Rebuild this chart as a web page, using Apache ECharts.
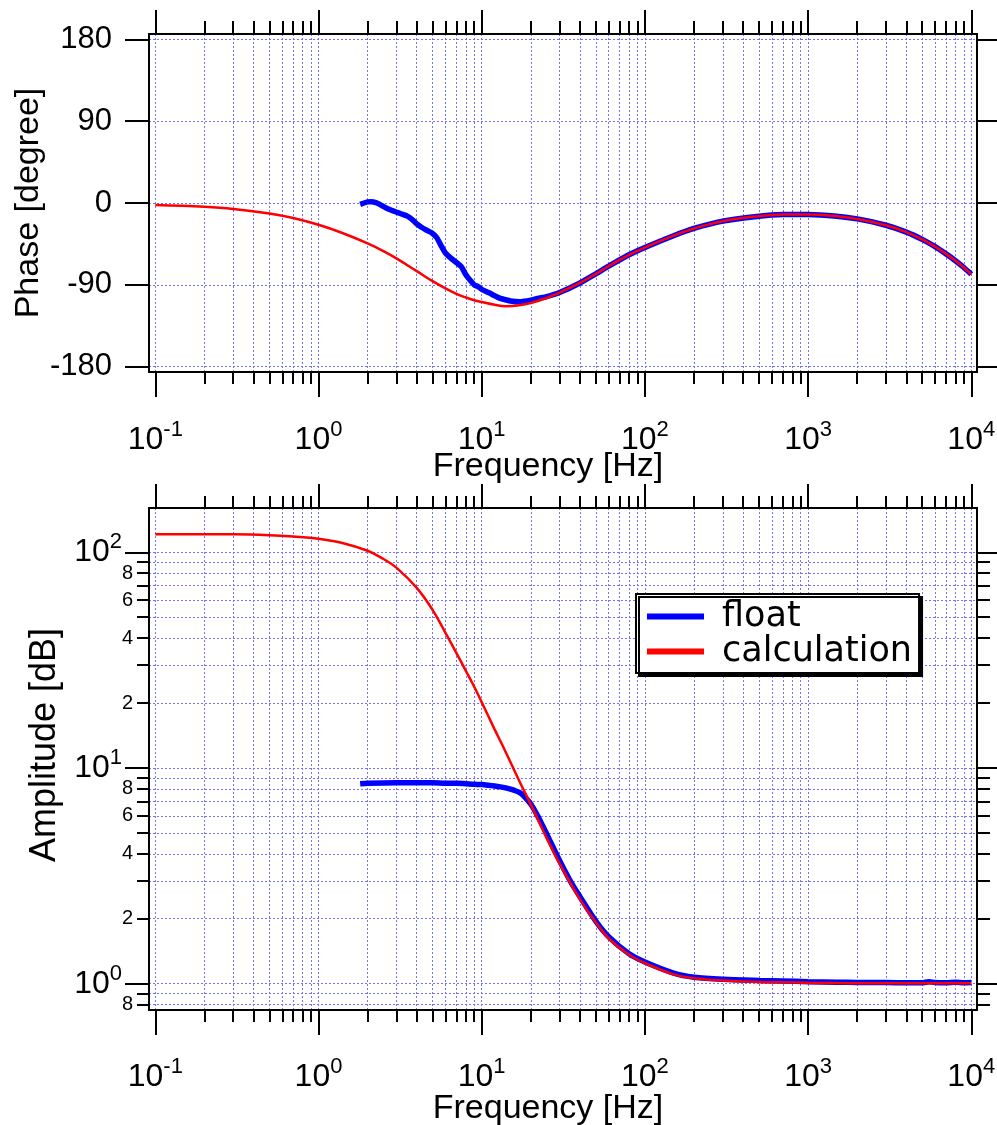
<!DOCTYPE html>
<html><head><meta charset="utf-8">
<script src="https://cdn.jsdelivr.net/npm/echarts@6/dist/echarts.min.js"></script>
<style>html,body{margin:0;padding:0;background:#fff}#c{width:997px;height:1125px}</style>
</head><body><div id="c"></div>
<script>
// ---------- data ----------
const freqCalc = [0.1,0.2,0.3,0.5,0.7,1,1.4,2,2.5,3,4,5,6,7,8,9,10,12,14,17,20,25,30,40,50,60,80,100,150,200,300,500,700,1000,1500,2000,3000,4000,5000,6000,7000,8000,9000,10000];
const phaseCalc = [-2.2,-4.2,-6.5,-11.5,-16.5,-24,-33,-44.5,-53,-61,-75,-86,-94,-100,-104,-107,-109,-112,-113.5,-112.5,-110,-104.5,-98.7,-88,-78,-69.5,-57,-49,-36,-28,-20,-14.5,-12.7,-12.6,-14.5,-17.5,-24.5,-32,-40,-48,-56,-63.5,-71,-78.5];
const ampCalc = [121.3,121.2,121.1,120,118.3,115.6,110.4,101.6,93.1,84.9,68.4,54.1,42.3,34.1,28.2,23.8,20.2,15.1,11.9,8.7,6.76,4.73,3.6,2.46,1.926,1.62,1.363,1.246,1.104,1.06,1.034,1.019,1.015,1.009,1.006,1.005,1.004,1.004,1.004,1.004,1.004,1.004,1.004,1.004];

const freqFloatPhase = [1.8,1.9,2.0,2.1,2.25,2.4,2.6,2.8,3.0,3.2,3.5,3.8,4.0,4.3,4.6,5.0,5.3,5.6,6.0,6.5,7.0,7.5,8.0,8.5,9.0,9.5,10,11,12,13,14,15,17,20,22,25,30,40,50,60,80,100,150,200,300,500,700,1000,1500,2000,3000,4000,5000,6000,7000,8000,9000,10000];
const phaseFloat = [-1.5,0,1.2,1.5,0.5,-2,-5.5,-8,-10,-11.8,-14.5,-19,-23,-27,-30,-33.5,-38,-46,-55,-61,-65.5,-70,-79,-85,-90,-92,-95,-98.5,-102,-105,-106.5,-107.8,-108.7,-107,-105,-103,-98.5,-88,-78,-69.5,-57,-49,-36,-28,-20,-14.5,-12.7,-12.6,-14.5,-17.5,-24.5,-32,-40,-48,-56,-63.5,-71,-78.5];

const freqFloatAmp = [1.8,2,3,4,5,6,7,8,9,10,11,12,13,14,15,16,17,18,20,22,25,30,35,40,50,60,80,100,150,200,300,500,700,1000,1500,2000,3000,4000,5000,5500,6000,7000,8000,9000,10000];
const ampFloat = [8.45,8.5,8.55,8.55,8.55,8.5,8.5,8.45,8.4,8.38,8.32,8.25,8.17,8.08,7.97,7.85,7.7,7.45,6.8,6.0,4.95,3.72,2.98,2.53,1.95,1.65,1.375,1.26,1.12,1.072,1.048,1.035,1.03,1.022,1.016,1.013,1.012,1.01,1.009,1.022,1.012,1.01,1.014,1.01,1.012];

// ---------- ticks ----------
const freqMajorTicks = [0.1,1,10,100,1000,10000];
const freqMinorTicks = [0.2,0.3,0.4,0.5,0.6,0.7,0.8,0.9,2,3,4,5,6,7,8,9,20,30,40,50,60,70,80,90,200,300,400,500,600,700,800,900,2000,3000,4000,5000,6000,7000,8000,9000];
const phaseTicks = [-180,-90,0,90,180];
const ampMajorTicks = [1,10,100];
const ampMinorTicks = [0.8,0.9,2,3,4,5,6,7,8,9,20,30,40,50,60,70,80,90];
const ampMinorLabels = [0.8,2,4,6,8,20,40,60,80];

const X_RANGE = [0.0915, 10840];
const PHASE_RANGE = [-186, 186];
const AMP_RANGE = [0.755, 160.4];

const seriesNames = ['float','calculation'];

// ---------- style ----------
const FONT = '"Liberation Sans", Arial, Helvetica, sans-serif';
const GRID_COLOR = '#7272ff';
const pairs = (xs, ys) => xs.map((x, i) => [x, ys[i]]);
const supLabel = v => '{b|10}{s|' + Math.round(Math.log10(v)) + '}';
const mantissa = v => String(Math.round(v / Math.pow(10, Math.floor(Math.log10(v) + 1e-9))));
const richSup = () => ({
  b: {fontFamily: FONT, fontSize: 32, lineHeight: 42, color: '#000'},
  s: {fontFamily: FONT, fontSize: 22, lineHeight: 16, verticalAlign: 'top', color: '#000'}
});
const blackLine = () => ({color: '#000', width: 2});
const splitStyle = () => ({show: true, lineStyle: {color: GRID_COLOR, type: [2, 2], width: 1, opacity: 1}});

function baseAxis(type, gridIndex, position, range, ticks, len, opt) {
  return Object.assign({
    type, gridIndex, position, min: range[0], max: range[1],
    axisLine: {show: true, onZero: false, lineStyle: blackLine()},
    axisTick: {show: true, inside: false, length: len, customValues: ticks, lineStyle: blackLine()},
    axisLabel: {show: false},
    splitLine: {show: false},
    splitArea: {show: false},
    minorTick: {show: false}, minorSplitLine: {show: false},
    nameMoveOverlap: false
  }, type === 'log' ? {logBase: 10} : {}, opt || {});
}
const logX = (g, pos, ticks, len, opt) => baseAxis('log', g, pos, X_RANGE, ticks, len, opt);
const xLabel = margin => ({show: true, customValues: freqMajorTicks, formatter: supLabel, margin, rich: richSup()});
const xName = gap => ({name: 'Frequency [Hz]', nameLocation: 'middle', nameGap: gap,
  nameTextStyle: {fontFamily: FONT, fontSize: 34, color: '#000', padding: [0, 30, 0, 0]}});

const option = {
  animation: false,
  backgroundColor: '#fff',
  grid: [
    {left: 149, top: 34, width: 828, height: 338, outerBoundsMode: 'none', containLabel: false},
    {left: 149, top: 508, width: 828, height: 502, outerBoundsMode: 'none', containLabel: false}
  ],
  xAxis: [
    logX(0, 'bottom', freqMajorTicks, 25, Object.assign({axisLabel: xLabel(47), splitLine: splitStyle()}, xName(78))),
    logX(0, 'bottom', freqMinorTicks, 12, {splitLine: splitStyle()}),
    logX(0, 'top', freqMajorTicks, 24),
    logX(0, 'top', freqMinorTicks, 13),
    logX(1, 'bottom', freqMajorTicks, 25, Object.assign({axisLabel: xLabel(46), splitLine: splitStyle()}, xName(82))),
    logX(1, 'bottom', freqMinorTicks, 12, {splitLine: splitStyle()}),
    logX(1, 'top', freqMajorTicks, 24),
    logX(1, 'top', freqMinorTicks, 12)
  ],
  yAxis: [
    baseAxis('value', 0, 'left', PHASE_RANGE, phaseTicks, 24, {
      axisLabel: {show: true, customValues: phaseTicks, margin: 37, fontFamily: FONT, fontSize: 31, color: '#000'},
      splitLine: splitStyle(),
      name: 'Phase [degree]', nameLocation: 'middle', nameGap: 103,
      nameTextStyle: {fontFamily: FONT, fontSize: 34, color: '#000'}
    }),
    baseAxis('value', 0, 'right', PHASE_RANGE, phaseTicks, 20),
    baseAxis('log', 1, 'left', AMP_RANGE, ampMajorTicks, 24, {
      axisLabel: {show: true, customValues: ampMajorTicks, formatter: supLabel, margin: 27, rich: richSup()},
      splitLine: splitStyle(),
      name: 'Amplitude [dB]', nameLocation: 'middle', nameGap: 86,
      nameTextStyle: {fontFamily: FONT, fontSize: 36, color: '#000', padding: [0, 0, 0, 28]}
    }),
    baseAxis('log', 1, 'left', AMP_RANGE, ampMinorTicks, 12, {
      axisLabel: {show: true, customValues: ampMinorLabels, formatter: mantissa, margin: 16, fontFamily: FONT, fontSize: 20, color: '#000'},
      splitLine: splitStyle()
    }),
    baseAxis('log', 1, 'right', AMP_RANGE, ampMajorTicks, 20),
    baseAxis('log', 1, 'right', AMP_RANGE, ampMinorTicks, 13)
  ],
  legend: {
    data: seriesNames, left: 636, top: 594, orient: 'vertical',
    icon: 'rect', itemWidth: 57, itemHeight: 6, itemGap: 0,
    padding: [5, 7, 4, 11],
    backgroundColor: '#fff', borderColor: '#000', borderWidth: 2, borderRadius: 0,
    shadowColor: '#000', shadowOffsetX: 3, shadowOffsetY: 3, shadowBlur: 0,
    selectedMode: false,
    textStyle: {fontFamily: '"DejaVu Sans", sans-serif', fontSize: 35, lineHeight: 34, color: '#000', padding: [0, 0, 0, 13]}
  },
  series: [
    {type: 'line', name: seriesNames[0], xAxisIndex: 0, yAxisIndex: 0, data: pairs(freqFloatPhase, phaseFloat),
      showSymbol: false, symbol: 'none', smooth: 0.2, lineStyle: {color: '#0000ff', width: 5.5}, itemStyle: {color: '#0000ff'}, z: 3},
    {type: 'line', name: seriesNames[1], xAxisIndex: 0, yAxisIndex: 0, data: pairs(freqCalc, phaseCalc),
      showSymbol: false, symbol: 'none', smooth: 0.4, lineStyle: {color: '#ff0000', width: 2.5}, itemStyle: {color: '#ff0000'}, z: 4},
    {type: 'line', name: seriesNames[0], xAxisIndex: 4, yAxisIndex: 2, data: pairs(freqFloatAmp, ampFloat),
      showSymbol: false, symbol: 'none', smooth: 0.3, lineStyle: {color: '#0000ff', width: 5.5}, itemStyle: {color: '#0000ff'}, z: 3},
    {type: 'line', name: seriesNames[1], xAxisIndex: 4, yAxisIndex: 2, data: pairs(freqCalc, ampCalc),
      showSymbol: false, symbol: 'none', smooth: 0.4, lineStyle: {color: '#ff0000', width: 2.5}, itemStyle: {color: '#ff0000'}, z: 4}
  ]
};
const chart = echarts.init(document.getElementById('c'), null, {renderer: 'canvas'});
chart.setOption(option);
</script></body></html>
